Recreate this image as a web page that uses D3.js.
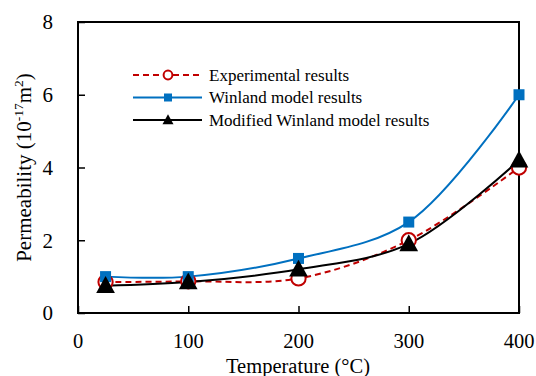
<!DOCTYPE html>
<html lang="en">
<head>
  <meta charset="UTF-8">
  <script src="https://d3js.org/d3.v7.min.js"></script>
  <title>Permeability vs temperature</title>
  <style>
    body { margin: 0; background: #fff; }
    text { font-family: "Liberation Serif", "DejaVu Serif", serif; fill: #000; }
  </style>
</head>
<body>
  <svg width="536" height="376"></svg>
  <script>
    // data
    const temps = [25, 100, 200, 300, 400];
    const experimental = [0.85, 0.87, 0.95, 2.0, 4.0];
    const winland = [1.0, 1.0, 1.5, 2.5, 6.0];
    const modified = [0.75, 0.85, 1.2, 1.9, 4.2];
    const xTicks = [0, 100, 200, 300, 400];
    const yTicks = [0, 2, 4, 6, 8];

    const series = [
      {name: "Experimental results", values: experimental, color: "#C00000", dash: "6,4", marker: "circle"},
      {name: "Winland model results", values: winland, color: "#0070C0", dash: null, marker: "square"},
      {name: "Modified Winland model results", values: modified, color: "#000000", dash: null, marker: "triangle"}
    ];

    const svg = d3.select("svg");
    const x = d3.scaleLinear().domain([0, 400]).range([78, 519]);
    const y = d3.scaleLinear().domain([0, 8]).range([313, 22]);

    // frame
    svg.append("rect")
      .attr("x", x(0)).attr("y", y(8))
      .attr("width", x(400) - x(0)).attr("height", y(0) - y(8))
      .attr("fill", "none").attr("stroke", "#000").attr("stroke-width", 2);

    // axes, ticks point inward
    const yAxis = d3.axisRight(y).tickValues(yTicks).tickSize(7).tickFormat("");
    svg.append("g").attr("transform", `translate(${x(0)},0)`).call(yAxis)
      .call(g => g.select(".domain").remove())
      .call(g => g.selectAll("line").attr("stroke-width", 1.5));
    const xAxis = d3.axisTop(x).tickValues(xTicks).tickSize(7).tickFormat("");
    svg.append("g").attr("transform", `translate(0,${y(0)})`).call(xAxis)
      .call(g => g.select(".domain").remove())
      .call(g => g.selectAll("line").attr("stroke-width", 1.5));

    // tick labels
    svg.append("g").selectAll("text").data(yTicks).join("text")
      .attr("x", 53).attr("y", d => y(d)).attr("dy", "0.35em")
      .attr("text-anchor", "end").attr("font-size", 21).text(d => d);
    svg.append("g").selectAll("text").data(xTicks).join("text")
      .attr("x", d => x(d)).attr("y", 348)
      .attr("text-anchor", "middle").attr("font-size", 20.5).text(d => d);

    // axis titles
    svg.append("text").attr("x", 298).attr("y", 372.5).attr("text-anchor", "middle")
      .attr("font-size", 20.5).text("Temperature (°C)");
    const yt = svg.append("text")
      .attr("transform", `translate(31,${(y(0) + y(8)) / 2}) rotate(-90)`)
      .attr("text-anchor", "middle").attr("font-size", 21);
    yt.append("tspan").text("Permeability (10");
    yt.append("tspan").attr("font-size", 13.5).attr("dy", -8).text("-17");
    yt.append("tspan").attr("dy", 8).text("m");
    yt.append("tspan").attr("font-size", 13.5).attr("dy", -8).text("2");
    yt.append("tspan").attr("dy", 8).text(")");

    function drawMarker(g, type, color, cx, cy, s) {
      if (type === "circle") {
        g.append("circle").attr("cx", cx).attr("cy", cy).attr("r", s * 0.55)
          .attr("fill", "#fff").attr("stroke", color).attr("stroke-width", 2);
      } else if (type === "square") {
        g.append("rect").attr("x", cx - s / 2).attr("y", cy - s / 2)
          .attr("width", s).attr("height", s).attr("fill", color);
      } else {
        const h = s * 0.95;
        g.append("path")
          .attr("d", `M${cx},${cy - h * 0.6}L${cx + s * 0.55},${cy + h * 0.45}L${cx - s * 0.55},${cy + h * 0.45}Z`)
          .attr("fill", color);
      }
    }

    const line = d3.line()
      .x((d, i) => x(temps[i]))
      .y(d => y(d))
      .curve(d3.curveCatmullRom.alpha(0.5));

    const markerSize = {circle: 13, square: 11, triangle: 17};
    series.forEach(s => {
      svg.append("path").datum(s.values).attr("d", line)
        .attr("fill", "none").attr("stroke", s.color).attr("stroke-width", 2)
        .attr("stroke-dasharray", s.dash);
    });
    series.forEach(s => {
      const g = svg.append("g");
      s.values.forEach((v, i) => drawMarker(g, s.marker, s.color, x(temps[i]), y(v), markerSize[s.marker]));
    });

    // legend
    const legendSize = {circle: 8, square: 8, triangle: 10};
    series.forEach((s, i) => {
      const ly = 75 + i * 22.5;
      const g = svg.append("g");
      g.append("line").attr("x1", 133).attr("x2", 202).attr("y1", ly).attr("y2", ly)
        .attr("stroke", s.color).attr("stroke-width", 2).attr("stroke-dasharray", s.dash);
      drawMarker(g, s.marker, s.color, 168, ly, legendSize[s.marker]);
      g.append("text").attr("x", 209).attr("y", ly).attr("dy", "0.35em")
        .attr("font-size", 17).text(s.name);
    });
  </script>
</body>
</html>
